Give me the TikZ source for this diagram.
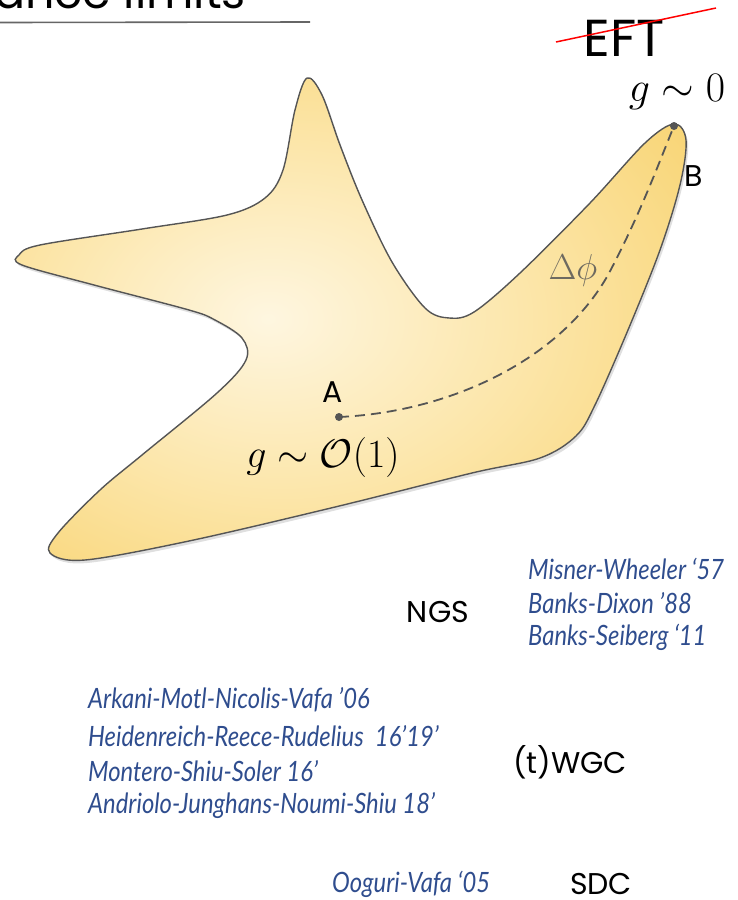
\RequirePackage{fix-cm}
\documentclass[tikz,border=0pt]{standalone}
\usepackage[no-math]{fontspec}
\setmainfont{Poppins}
\newfontfamily\handfont[FakeStretch=0.85]{Lato}
\usetikzlibrary{shadows}
\definecolor{cin}{HTML}{FEF6E0}
\definecolor{cmid}{HTML}{FCE6AA}
\definecolor{cout}{HTML}{F8D473}
\definecolor{edge}{HTML}{555555}
\definecolor{handblue}{HTML}{2F4D8E}
\definecolor{dphi}{HTML}{6E6A60}
\pgfdeclareradialshading{glow}{\pgfpoint{-6bp}{0bp}}{color(0bp)=(cin); color(18bp)=(cmid); color(36bp)=(cout); color(100bp)=(cout)}
\tikzset{
  lbl/.style={font=\fontsize{30}{32}\selectfont, text=black, inner sep=0pt},
  hand/.style={font=\handfont\itshape\fontsize{28}{30}\selectfont, text=handblue, inner sep=0pt, anchor=west},
  mathlbl/.style={font=\fontsize{40}{42}\selectfont, inner sep=0pt},
  pointdot/.style={circle, fill=edge, inner sep=0pt, minimum size=8pt},
}
\begin{document}
\begin{tikzpicture}[x=1pt,y=-1pt]
\useasboundingbox (0,0) rectangle (737,900);
% title (cut at top)
\node[font=\fontsize{46}{50}\selectfont, anchor=base east, inner sep=0pt] (title) at (246,8) {distance limits};
\draw[line width=1.6pt, color=gray!80!black] (0,22.5) -- (310,22) coordinate (titleend);
% EFT crossed
\node[font=\fontsize{52}{56}\selectfont, inner sep=0pt] (eft) at (624,38) {EFT};
\draw[red, line width=1.5pt] (556,42) coordinate (s1) -- (716,8) coordinate (s2);
% moduli space blob
\path[draw=edge, line width=1.4pt, shading=glow,
  drop shadow={opacity=0.25, shadow xshift=2pt, shadow yshift=-3pt}]
  plot[smooth cycle, tension=0.55] coordinates {
  (307,78) (322,95) (340,145) (362,200) (392,262) (425,308) (449,318)
  (474,312) (520,273) (590,203) (645,143) (674,124) (686,140) (680,185)
  (660,250) (628,330) (595,405) (576,436) (540,458) (472,473) (331,508)
  (189,541) (85,560) (50,553) (58,533) (100,490) (142,455) (217,393)
  (246,360) (242,338) (215,320) (189,310) (94,285) (22,265) (19,255)
  (40,245) (142,229) (227,215) (265,198) (283,170) (295,110)};
% points
\node[pointdot] (A) at (339,417) {};
\node[pointdot] (B) at (674,126) {};
\draw[edge, line width=1.8pt, dash pattern=on 10pt off 6pt]
  (A.center) .. controls (450,412) and (560,360) .. (608,275)
  .. controls (640,215) and (660,160) .. (B.center);
\node[lbl] (Alabel) at (333,392) {A};
\node[lbl] (Blabel) at (694,176) {B};
\node[mathlbl, text=dphi, font=\fontsize{36}{38}\selectfont] (dphi) at (573,270) {$\Delta\phi$};
\node[mathlbl] (gO) at (323,457) {$g\sim\mathcal{O}(1)$};
\node[mathlbl, font=\fontsize{42}{44}\selectfont] (g0) at (677,92) {$g\sim0$};
% conjectures
\node[lbl] (NGS) at (438,612) {NGS};
\node[lbl] (WGC) at (570,762) {(t)WGC};
\node[lbl] (SDC) at (601,884) {SDC};
% references
\node[hand] (r1) at (528,569) {Misner-Wheeler ‘57};
\node[hand] (r2) at (528,603) {Banks-Dixon ’88};
\node[hand] (r3) at (528,637) {Banks-Seiberg ‘11};
\node[hand] (r4) at (88,700) {Arkani-Motl-Nicolis-Vafa ’06};
\node[hand] (r5) at (88,736) {Heidenreich-Reece-Rudelius\ \ 16’19’};
\node[hand] (r6) at (88,771) {Montero-Shiu-Soler 16’};
\node[hand] (r7) at (88,806) {Andriolo-Junghans-Noumi-Shiu 18’};
\node[hand] (r8) at (332,884) {Ooguri-Vafa ‘05};
\end{tikzpicture}
\end{document}
